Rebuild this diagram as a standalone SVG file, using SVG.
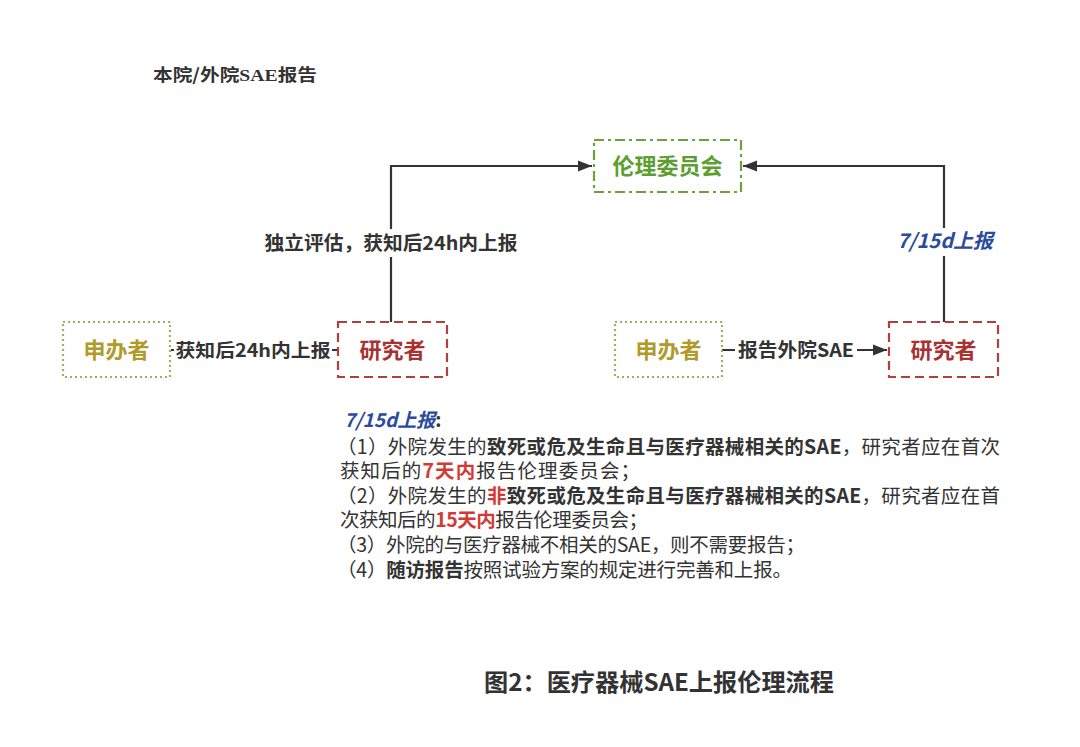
<svg xmlns="http://www.w3.org/2000/svg" width="1080" height="747" viewBox="0 0 1080 747">
<style>
text{font-family:"Noto Sans CJK SC","Noto Sans",sans-serif;fill:#333}
.b{font-weight:bold}
.node{font-size:22px;font-weight:bold;text-anchor:middle}
.lbl{font-size:19px;font-weight:bold;text-anchor:middle}
.body{font-size:19.5px}
.red{fill:#d23a36;font-weight:bold}
.blue{fill:#2c4a9e;font-style:italic;font-weight:bold}
.line{stroke:#333;stroke-width:2.2;fill:none}
.bg{fill:#fff}
</style>
<defs>
<marker id="ahL" viewBox="0 0 10 10" refX="10" refY="5" markerWidth="16" markerHeight="14" markerUnits="userSpaceOnUse" orient="auto">
<path d="M0,1 L10,5 L0,9 z" fill="#333"/>
</marker>
</defs>
<rect width="1080" height="747" fill="#fff"/>
<text x="153" y="81" class="b" style="font-size:17px" textLength="164" lengthAdjust="spacingAndGlyphs">本院/外院<tspan style="font-family:'Liberation Serif',serif">SAE</tspan>报告</text>

<g id="connectors">
<path class="line" d="M391,322 V166 H592" marker-end="url(#ahL)"/>
<path class="line" d="M944,322 V166 H743" marker-end="url(#ahL)"/>
<path class="line" d="M338,350 H171"/>
<path class="line" d="M722,350 H887" marker-end="url(#ahL)"/>
<rect class="bg" x="262" y="229" width="262" height="28"/>
<text class="lbl" x="391" y="250" textLength="253" lengthAdjust="spacingAndGlyphs">独立评估，获知后24h内上报</text>
<rect class="bg" x="892" y="228" width="106" height="28"/>
<text x="945" y="248" class="blue" style="font-size:20px;text-anchor:middle" textLength="96" lengthAdjust="spacingAndGlyphs">7/15d上报</text>
<rect class="bg" x="174" y="337" width="158" height="28"/>
<text class="lbl" x="253" y="357" style="font-size:18px" textLength="155" lengthAdjust="spacingAndGlyphs">获知后24h内上报</text>
<rect class="bg" x="735" y="337" width="122" height="28"/>
<text class="lbl" x="796" y="357" textLength="116" lengthAdjust="spacingAndGlyphs">报告外院SAE</text>
</g>

<g id="ethics">
<rect x="594" y="140" width="147" height="52" fill="#fff" stroke="#6aa33a" stroke-width="2.2" stroke-dasharray="10,4,3,4"/>
<text class="node" x="667.5" y="174" style="fill:#5e9e30">伦理委员会</text>
</g>
<g id="sponsor-left">
<rect x="63" y="322" width="107" height="55" fill="#fff" stroke="#b0a660" stroke-width="2.2" stroke-dasharray="2,3"/>
<text class="node" x="116.5" y="358" style="fill:#b09a2a">申办者</text>
</g>
<g id="investigator-left">
<rect x="338" y="322" width="109" height="55" fill="#fff" stroke="#b04040" stroke-width="2.2" stroke-dasharray="9,5"/>
<text class="node" x="392.5" y="358" style="fill:#a83232">研究者</text>
</g>
<g id="sponsor-right">
<rect x="615" y="322" width="107" height="55" fill="#fff" stroke="#b0a660" stroke-width="2.2" stroke-dasharray="2,3"/>
<text class="node" x="668.5" y="358" style="fill:#b09a2a">申办者</text>
</g>
<g id="investigator-right">
<rect x="889" y="322" width="109" height="55" fill="#fff" stroke="#b04040" stroke-width="2.2" stroke-dasharray="9,5"/>
<text class="node" x="943.5" y="358" style="fill:#a83232">研究者</text>
</g>

<g id="notes">
<text x="344" y="427" style="font-size:19px"><tspan class="blue">7/15d上报</tspan><tspan class="b">:</tspan></text>
<text class="body" x="337" y="454" textLength="663" lengthAdjust="spacing">（1）外院发生的<tspan class="b">致死或危及生命且与医疗器械相关的SAE</tspan>，研究者应在首次</text>
<text class="body" x="340" y="478" textLength="300" lengthAdjust="spacing">获知后的<tspan class="red">7天内</tspan>报告伦理委员会；</text>
<text class="body" x="337" y="503" textLength="663" lengthAdjust="spacing">（2）外院发生的<tspan class="red">非</tspan><tspan class="b">致死或危及生命且与医疗器械相关的SAE</tspan>，研究者应在首</text>
<text class="body" x="340" y="527" textLength="308" lengthAdjust="spacing">次获知后的<tspan class="red">15天内</tspan>报告伦理委员会；</text>
<text class="body" x="337" y="552" textLength="468" lengthAdjust="spacing">（3）外院的与医疗器械不相关的SAE，则不需要报告；</text>
<text class="body" x="337" y="577" textLength="455" lengthAdjust="spacing">（4）<tspan class="b">随访报告</tspan>按照试验方案的规定进行完善和上报。</text>
</g>

<text x="484" y="691" class="b" style="font-size:24px" textLength="350" lengthAdjust="spacingAndGlyphs">图2：医疗器械SAE上报伦理流程</text>
</svg>
